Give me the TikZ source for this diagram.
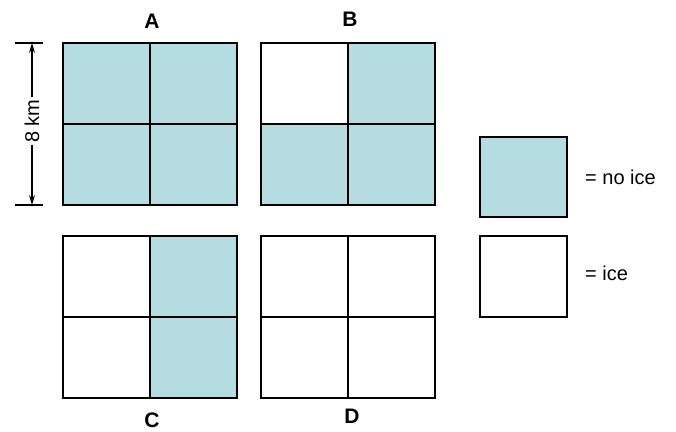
\documentclass[tikz,border=0pt]{standalone}
\usepackage{fontspec}
\setmainfont{Liberation Sans}
\usetikzlibrary{arrows.meta}
\definecolor{NoIceBlue}{HTML}{B5DDE1}

\begin{document}
\begin{tikzpicture}[x=1pt,y=-1pt,line width=1.7pt]
  \useasboundingbox (0,0) rectangle (676,431);
  % shaded cells (no ice)
  \fill[NoIceBlue] (63,43) rectangle (237,205);
  \fill[NoIceBlue] (349,43) rectangle (436,124);
  \fill[NoIceBlue] (261,124) rectangle (436,205);
  \fill[NoIceBlue] (150,236) rectangle (237,397);
  % grids
  \foreach \gx/\gy in {63/43,261/43,63/236,261/236} {
    \draw (\gx,\gy) rectangle ++(174,162);
    \draw (\gx+87,\gy) -- ++(0,162);
    \draw (\gx,\gy+81) -- ++(174,0);
  }
  \node[font=\fontsize{21}{23}\selectfont\bfseries] (labA) at (152,21) {A};
  \node[font=\fontsize{21}{23}\selectfont\bfseries] (labB) at (350,19) {B};
  \node[font=\fontsize{21}{23}\selectfont\bfseries] (labC) at (152,420) {C};
  \node[font=\fontsize{21}{23}\selectfont\bfseries] (labD) at (352,416) {D};
  % scale bar
  \coordinate (dimtop) at (32,43);
  \coordinate (dimbot) at (32,205);
  \draw[line width=1.2pt] (15,43) -- (43,43);
  \draw[line width=1.2pt] (15,205) -- (43,205);
  \node[rotate=90,font=\fontsize{20}{22}\selectfont,inner sep=1pt] (dimlab) at (32,121) {8 km};
  \draw[line width=1.2pt,-{Stealth[length=10pt,width=6pt]}] (dimlab.east) -- (dimtop);
  \draw[line width=1.2pt,-{Stealth[length=10pt,width=6pt]}] (dimlab.west) -- (dimbot);
  % legend
  \draw[fill=NoIceBlue] (480,137) rectangle (567,217);
  \draw (480,236) rectangle (567,317);
  \node[anchor=west,font=\fontsize{20}{22}\selectfont] (noice) at (581,177) {= no ice};
  \node[anchor=west,font=\fontsize{20}{22}\selectfont] (ice) at (581,273) {= ice};
\end{tikzpicture}
\end{document}
